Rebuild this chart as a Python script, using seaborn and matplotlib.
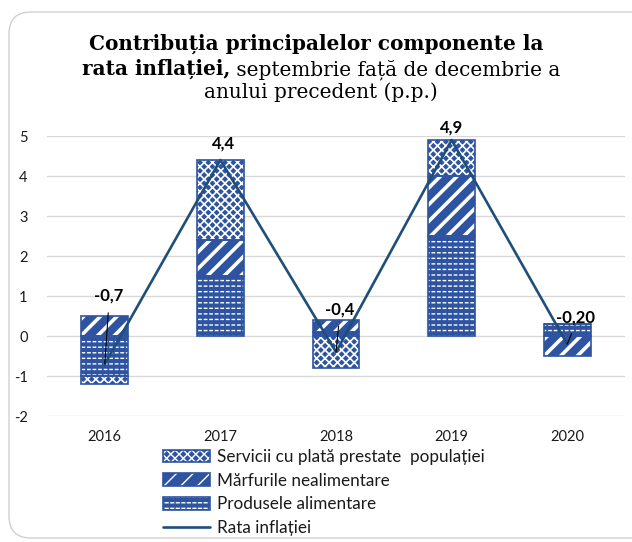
import numpy as np
import pandas as pd
import seaborn as sns
import matplotlib.pyplot as plt
from matplotlib.patches import Patch, FancyBboxPatch
from matplotlib.lines import Line2D
from matplotlib.legend_handler import HandlerTuple

# data (p.p.)
years = ['2016', '2017', '2018', '2019', '2020']
produse_alimentare = [-1.0, 1.5, 0.1, 2.5, 0.3]
marfuri_nealimentare = [0.5, 0.9, 0.3, 1.5, -0.5]
servicii = [-0.2, 2.0, -0.8, 0.9, 0.0]
rata_inflatiei = [-0.7, 4.4, -0.4, 4.9, -0.2]
etichete = ['-0,7', '4,4', '-0,4', '4,9', '-0,20']

nume_serii = ['Servicii cu plată prestate  populației', 'Mărfurile nealimentare',
              'Produsele alimentare', 'Rata inflației']

sns.set_theme(style='white')
plt.rcParams['font.family'] = ['Lato', 'DejaVu Sans']
plt.rcParams['axes.unicode_minus'] = False
plt.rcParams['text.color'] = 'black'

BLUE = '#2E54A1'
LINE = '#1F4E79'

fig = plt.figure(figsize=(6.32, 5.42), dpi=100)
ax = fig.add_axes([47 / 632, 1 - 416 / 542, 578 / 632, 280 / 542])

x = np.arange(len(years))
# white hatch on blue, plus an optional blue hatch on top (breaks food lines into dashes)
hatches = {'food': '---', 'marf': '//', 'serv': 'xxxx'}
hatch_lw = {'food': 1.0, 'marf': 2.6, 'serv': 1.2}
over_hatch = {'food': '|||'}
over_lw = 1.3


def set_hlw(p, lw):
    if hasattr(p, 'set_hatch_linewidth'):
        p.set_hatch_linewidth(lw)


pos_bottom = np.zeros(len(years))
neg_bottom = np.zeros(len(years))
for key, vals in [('food', produse_alimentare), ('marf', marfuri_nealimentare), ('serv', servicii)]:
    vals = np.array(vals)
    bottom = np.where(vals >= 0, pos_bottom, neg_bottom)
    bars = ax.bar(x, vals, bottom=bottom, width=0.405, color=BLUE, edgecolor='white',
                  linewidth=0, hatch=hatches[key], zorder=2)
    for p in bars:
        set_hlw(p, hatch_lw[key])
    if key in over_hatch:
        bars2 = ax.bar(x, vals, bottom=bottom, width=0.405, color='none', edgecolor=BLUE,
                       linewidth=0, hatch=over_hatch[key], zorder=2.5)
        for p in bars2:
            set_hlw(p, over_lw)
    ax.bar(x, vals, bottom=bottom, width=0.405, fill=False, edgecolor=BLUE,
           linewidth=1.2, zorder=3)
    pos_bottom += np.where(vals > 0, vals, 0)
    neg_bottom += np.where(vals < 0, vals, 0)

df = pd.DataFrame({'x': x, 'rata': rata_inflatiei})
sns.lineplot(data=df, x='x', y='rata', ax=ax, color=LINE, linewidth=1.9, zorder=4)

# data labels (offsets from the point, in data units)
label_off = [(0.035, 1.7), (0.03, 0.42), (0.03, 1.07), (0.0, 0.32), (0.07, 0.67)]
leader = [True, False, True, False, True]
for i, txt in enumerate(etichete):
    dx, dy = label_off[i]
    if leader[i]:
        ax.annotate(txt, xy=(x[i], rata_inflatiei[i]), xytext=(x[i] + dx, rata_inflatiei[i] + dy),
                    ha='center', va='center', fontsize=12, fontweight='bold', color='black',
                    annotation_clip=False,
                    arrowprops=dict(arrowstyle='-', color='black', lw=0.8, shrinkA=4, shrinkB=0,
                                    relpos=(0.5, 0)), zorder=6)
    else:
        ax.text(x[i] + dx, rata_inflatiei[i] + dy, txt, ha='center', va='center', color='black',
                fontsize=12, fontweight='bold', zorder=6, clip_on=False)

ax.set_xlim(-0.5, len(years) - 0.5)
ax.set_ylim(-2, 5)
ax.set_xticks(x)
ax.set_xticklabels(years)
ax.set_yticks(range(-2, 6))
ax.tick_params(axis='both', length=0, labelsize=10.5, labelcolor='#1a1a1a')
ax.tick_params(axis='y', pad=14)
ax.tick_params(axis='x', pad=10)
ax.grid(axis='y', color='#d9d9d9', linewidth=1)
ax.grid(axis='x', visible=False)
ax.set_axisbelow(True)
ax.set_xlabel('')
ax.set_ylabel('')
sns.despine(ax=ax, left=True, bottom=True)


# legend
def hatched(key):
    parts = []
    p = Patch(facecolor=BLUE, edgecolor='white', linewidth=0, hatch=hatches[key])
    set_hlw(p, hatch_lw[key])
    parts.append(p)
    if key in over_hatch:
        p2 = Patch(facecolor='none', edgecolor=BLUE, linewidth=0, hatch=over_hatch[key])
        set_hlw(p2, over_lw)
        parts.append(p2)
    parts.append(Patch(fill=False, edgecolor=BLUE, linewidth=1.2))
    return tuple(parts)


handles = [hatched('serv'), hatched('marf'), hatched('food'),
           Line2D([], [], color=LINE, linewidth=1.9)]
leg = fig.legend(handles, nume_serii, loc='upper left', bbox_to_anchor=(163 / 632, 1 - 449 / 542),
                 frameon=False, fontsize=12.3, handlelength=2.75, handleheight=0.75,
                 handletextpad=0.4, labelspacing=0.45, borderpad=0, borderaxespad=0,
                 handler_map={tuple: HandlerTuple(ndivide=1)})
for t in leg.get_texts():
    t.set_color('#1a1a1a')

# title: bold and regular parts
tfont = ['DejaVu Serif']
tsize = 14.4
fig.text(316 / 632, 1 - 50 / 542, 'Contribuția principalelor componente la', family=tfont,
         fontsize=tsize, fontweight='bold', ha='center', va='baseline', color='black')
renderer = fig.canvas.get_renderer()
t_bold = fig.text(0, 1 - 75 / 542, 'rata inflației,', family=tfont, fontsize=tsize,
                  fontweight='bold', ha='left', va='baseline', color='black')
t_reg = fig.text(0, 1 - 75 / 542, ' septembrie față de decembrie a', family=tfont,
                 fontsize=tsize, ha='left', va='baseline', color='black')
w_b = t_bold.get_window_extent(renderer).width / fig.bbox.width
w_r = t_reg.get_window_extent(renderer).width / fig.bbox.width
start = (321 / 632) - (w_b + w_r) / 2
t_bold.set_x(start)
t_reg.set_x(start + w_b)
fig.text(321 / 632, 1 - 98 / 542, 'anului precedent (p.p.)', family=tfont, fontsize=tsize,
         ha='center', va='baseline', color='black')

# rounded chart border
border = FancyBboxPatch((0.09, 0.04), 6.5, 5.26, boxstyle='round,pad=0,rounding_size=0.22',
                        transform=fig.dpi_scale_trans, facecolor='none', edgecolor='#d0d0d0',
                        linewidth=1, zorder=0)
fig.patches.append(border)

fig.savefig('out.png', dpi=100)
